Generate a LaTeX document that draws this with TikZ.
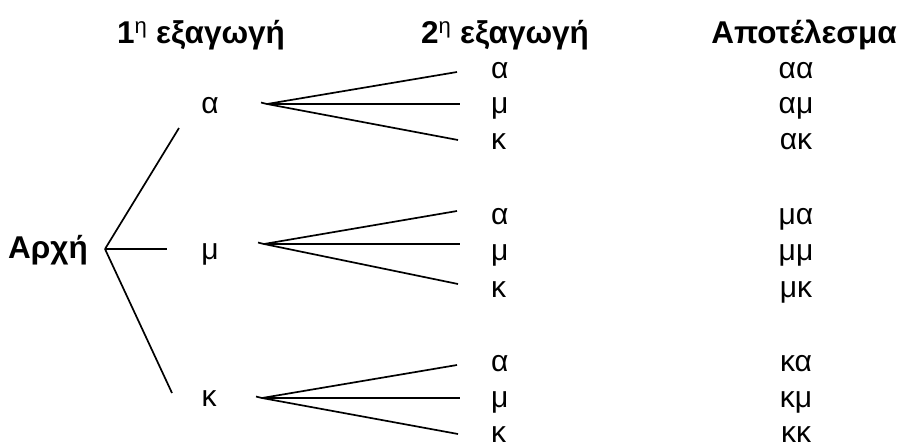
\documentclass[tikz,border=0pt]{standalone}
\usepackage{fontspec}
\setmainfont{Liberation Sans}
\begin{document}
\begin{tikzpicture}[x=1pt,y=-1pt,
  lbl/.style={inner sep=0pt,font=\fontsize{30}{31}\selectfont},
  head/.style={inner sep=0pt,font=\fontsize{31.5}{33}\selectfont\bfseries,anchor=base},
  branch/.style={line width=1.7pt,line cap=butt}]
\useasboundingbox (0,0) rectangle (902,445);
% headings
\node[head] (h1) at (201,43) {1\textsuperscript{\mdseries η} εξαγωγή};
\node[head] (h2) at (505,43) {2\textsuperscript{\mdseries η} εξαγωγή};
\node[head] (h3) at (804,43) {Αποτέλεσμα};
\node[head] (root) at (48,258) {Αρχή};
% first level
\node[lbl,anchor=base] (A) at (210,113) {α};
\node[lbl,anchor=base] (M) at (210,259) {μ};
\node[lbl,anchor=base] (K) at (209,406) {κ};
% root lines
\coordinate (r0) at (105,249);
\coordinate (rA) at (179,128);
\coordinate (rM) at (167,249);
\coordinate (rK) at (172,393);
\draw[branch] (r0) -- (rA);
\draw[branch] (r0) -- (rM);
\draw[branch] (r0) -- (rK);
% fans
\foreach \g/\oy/\ox/\ya/\ym/\yk in {1/104/267/72/104/140, 2/244/264/211/244/284, 3/398/262/365/398/434}{
  \coordinate (o\g) at (\ox,\oy);
  \coordinate (t\g) at (\ox-6,\oy-1.5);
  \coordinate (ea\g) at (457,\ya);
  \coordinate (em\g) at (460,\ym);
  \coordinate (ek\g) at (458,\yk);
  \draw[branch] (t\g) -- (o\g);
  \draw[branch] (o\g) -- (ea\g);
  \draw[branch] (o\g) -- (em\g);
  \draw[branch] (o\g) -- (ek\g);
}
% second level and results
\foreach \g/\p/\ba/\bm/\bk in {1/α/78/113/149, 2/μ/224/260/297, 3/κ/371/407/442}{
  \node[lbl,anchor=base west] (sa\g) at (491,\ba) {α};
  \node[lbl,anchor=base west] (sm\g) at (491,\bm) {μ};
  \node[lbl,anchor=base west] (sk\g) at (491,\bk) {κ};
  \node[lbl,anchor=base] (ra\g) at (796,\ba) {\p α};
  \node[lbl,anchor=base] (rm\g) at (796,\bm) {\p μ};
  \node[lbl,anchor=base] (rk\g) at (796,\bk) {\p κ};
}
\end{tikzpicture}
\end{document}
